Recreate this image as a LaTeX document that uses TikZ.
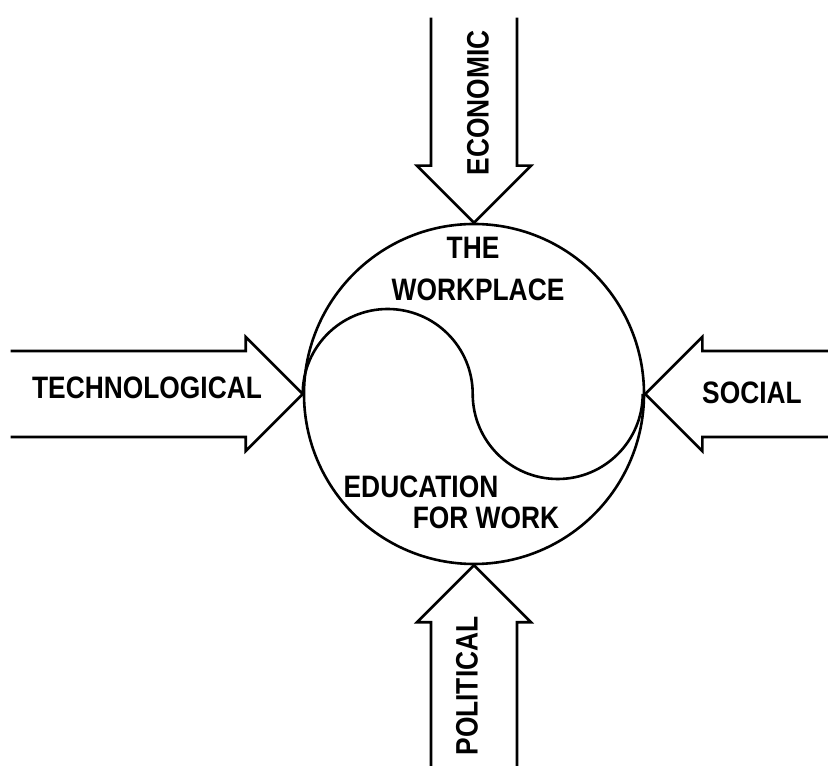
\documentclass[tikz,border=0pt]{standalone}
\usepackage{fontspec}
\setmainfont{Liberation Sans}
\usepackage{tikz}
\newcommand{\forcefont}{\fontsize{31}{34}\selectfont\bfseries}
\newcommand{\squeeze}[1]{\scalebox{0.85}[1]{#1}}
\newcommand{\drawforce}[3]{
  \begin{scope}[shift={#1},rotate=#2]
  \draw[thick line] (-#3,43) -- (-57,43) -- (-57,57) -- (0,0) -- (-57,-57) -- (-57,-43) -- (-#3,-43);
  \end{scope}
}
\tikzset{
  thick line/.style={line width=2.6pt},
  force/.style={font=\forcefont,inner sep=0pt},
}

\begin{document}
\begin{tikzpicture}[x=1pt,y=1pt]
      \useasboundingbox (0,0) rectangle (828,766);
      %% the workplace circle
      \node[circle,draw,thick line,minimum size=340pt,inner sep=0pt] (workplace) at (474,372) {};
      \draw[thick line] (workplace.west) arc (180:0:85) arc (180:360:85);
      \node[force] (the) at (473,518) {\squeeze{THE}};
      \node[force] (wplace) at (478,476) {\squeeze{WORKPLACE}};
      \node[force] (educ) at (421,279) {\squeeze{EDUCATION}};
      \node[force] (forwork) at (486,248) {\squeeze{FOR WORK}};
      %% forces
      \drawforce{(workplace.west)}{0}{292};
      \node[force] (techno) at (147,378) {\squeeze{TECHNOLOGICAL}};
      \drawforce{(workplace.east)}{180}{184};
      \node[force] (social) at (752,373) {\squeeze{SOCIAL}};
      \drawforce{(workplace.north)}{-90}{205};
      \node[force,rotate=90] (econ) at (478,663) {\squeeze{ECONOMIC}};
      \drawforce{(workplace.south)}{90}{202};
      \node[force,rotate=90] (polit) at (467,80) {\squeeze{POLITICAL}};
\end{tikzpicture}
\end{document}
